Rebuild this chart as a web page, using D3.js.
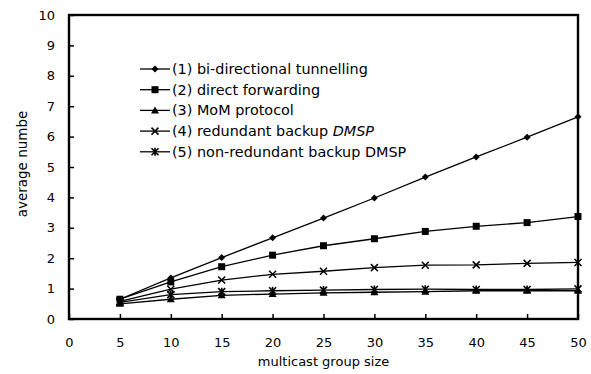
<!DOCTYPE html>
<html>
<head>
<meta charset="utf-8">
<script src="https://cdn.jsdelivr.net/npm/d3@7"></script>
<style>
    body { margin: 0; background: #fff; }
    text { font-family: "DejaVu Sans", Verdana, sans-serif; fill: #000; }
</style>
</head>
<body>
<svg id="chart"></svg>
<script>
// Chart values
let groupSizes = [5, 10, 15, 20, 25, 30, 35, 40, 45, 50];
let biTunnel   = [0.65, 1.35, 2.02, 2.67, 3.32, 3.98, 4.67, 5.33, 5.98, 6.65];
let directFwd  = [0.65, 1.22, 1.72, 2.1, 2.41, 2.64, 2.88, 3.05, 3.17, 3.37];
let momProto   = [0.5, 0.65, 0.78, 0.82, 0.86, 0.88, 0.9, 0.93, 0.93, 0.93];
let redundant  = [0.58, 0.98, 1.28, 1.47, 1.57, 1.69, 1.77, 1.78, 1.83, 1.86];
let nonRedund  = [0.55, 0.8, 0.9, 0.93, 0.95, 0.97, 0.98, 0.97, 0.97, 0.99];

let seriesNames = ['(1) bi-directional tunnelling', '(2) direct forwarding', '(3) MoM protocol',
                   '(4) redundant backup DMSP', '(5) non-redundant backup DMSP'];
let seriesMarks = ['diamond', 'square', 'triangle', 'cross', 'star'];
let xTicks = [0, 5, 10, 15, 20, 25, 30, 35, 40, 45, 50];
let yTicks = [0, 1, 2, 3, 4, 5, 6, 7, 8, 9, 10];

let c = {
    svg: { width: 591, height: 374 },
    plot: { left: 69, top: 15, right: 578, bottom: 319 }
};

let svg = d3.select('#chart')
    .attr('width', c.svg.width)
    .attr('height', c.svg.height);

let x = d3.scaleLinear().domain([0, 50]).range([c.plot.left, c.plot.right]);
let y = d3.scaleLinear().domain([0, 10]).range([c.plot.bottom, c.plot.top]);

// Axes (ticks pointing inward)
svg.append('g')
    .attr('transform', translate(0, c.plot.bottom))
    .call(d3.axisBottom(x).tickValues(xTicks).tickSize(-5).tickPadding(19))
    .call(g => g.select('.domain').remove())
    .call(g => g.selectAll('text').attr('font-size', 13));

svg.append('g')
    .attr('transform', translate(c.plot.left, 0))
    .call(d3.axisLeft(y).tickValues(yTicks).tickSize(-5).tickPadding(14))
    .call(g => g.select('.domain').remove())
    .call(g => g.selectAll('text').attr('font-size', 13));

svg.selectAll('.tick line').attr('stroke', '#000').attr('stroke-width', 1.5);

// Frame
svg.append('rect')
    .attr('x', c.plot.left)
    .attr('y', c.plot.top)
    .attr('width', c.plot.right - c.plot.left)
    .attr('height', c.plot.bottom - c.plot.top)
    .attr('fill', 'none')
    .attr('stroke', '#000')
    .attr('stroke-width', 2.4);

// Axis titles
svg.append('text')
    .attr('x', midpoint([c.plot.left, c.plot.right]))
    .attr('y', 366)
    .attr('text-anchor', 'middle')
    .attr('font-size', 13)
    .text('multicast group size');

svg.append('text')
    .attr('transform', translate(27, 164) + ' rotate(-90)')
    .attr('text-anchor', 'middle')
    .attr('font-size', 13.5)
    .text('average numbe');

// Markers
function drawMark(g, kind, cx, cy) {
    if (kind === 'diamond') {
        g.append('path').attr('d', `M${cx},${cy - 3.5}L${cx + 3.5},${cy}L${cx},${cy + 3.5}L${cx - 3.5},${cy}Z`)
            .attr('fill', '#000');
    } else if (kind === 'square') {
        g.append('rect').attr('x', cx - 3.5).attr('y', cy - 3.5).attr('width', 7).attr('height', 7)
            .attr('fill', '#000');
    } else if (kind === 'triangle') {
        g.append('path').attr('d', `M${cx},${cy - 4}L${cx + 4},${cy + 3}L${cx - 4},${cy + 3}Z`)
            .attr('fill', '#000');
    } else if (kind === 'cross') {
        g.append('path').attr('d', `M${cx - 3.5},${cy - 3.5}L${cx + 3.5},${cy + 3.5}M${cx - 3.5},${cy + 3.5}L${cx + 3.5},${cy - 3.5}`)
            .attr('stroke', '#000').attr('stroke-width', 1.5);
    } else {
        g.append('path').attr('d', `M${cx - 3.5},${cy - 3.5}L${cx + 3.5},${cy + 3.5}M${cx - 3.5},${cy + 3.5}L${cx + 3.5},${cy - 3.5}M${cx},${cy - 4}L${cx},${cy + 4}`)
            .attr('stroke', '#000').attr('stroke-width', 1.6);
    }
}

let allSeries = [biTunnel, directFwd, momProto, redundant, nonRedund];
let line = d3.line()
    .x((d, i) => x(groupSizes[i]))
    .y(d => y(d));

let plot = svg.append('g').attr('id', 'plot');
allSeries.forEach((vals, s) => {
    plot.append('path')
        .attr('d', line(vals))
        .attr('fill', 'none')
        .attr('stroke', '#000')
        .attr('stroke-width', 1.3);
    vals.forEach((v, i) => drawMark(plot, seriesMarks[s], x(groupSizes[i]), y(v)));
});

// Legend
let legend = svg.append('g').attr('id', 'legend');
seriesNames.forEach((name, s) => {
    let ly = 69 + s * 20.7;
    legend.append('line')
        .attr('x1', 140).attr('x2', 170)
        .attr('y1', ly).attr('y2', ly)
        .attr('stroke', '#000').attr('stroke-width', 1.3);
    drawMark(legend, seriesMarks[s], 155, ly);
    let t = legend.append('text')
        .attr('x', 172).attr('y', ly + 5)
        .attr('font-size', 14.4);
    if (s === 3) {
        t.append('tspan').text('(4) redundant backup ');
        t.append('tspan').attr('font-style', 'italic').text('DMSP');
    } else {
        t.text(name);
    }
});

function translate(x, y) {
    return 'translate(' + x + ',' + y + ')';
}

function midpoint(range) {
    return range[0] + (range[1] - range[0]) / 2.0;
}
</script>
</body>
</html>
